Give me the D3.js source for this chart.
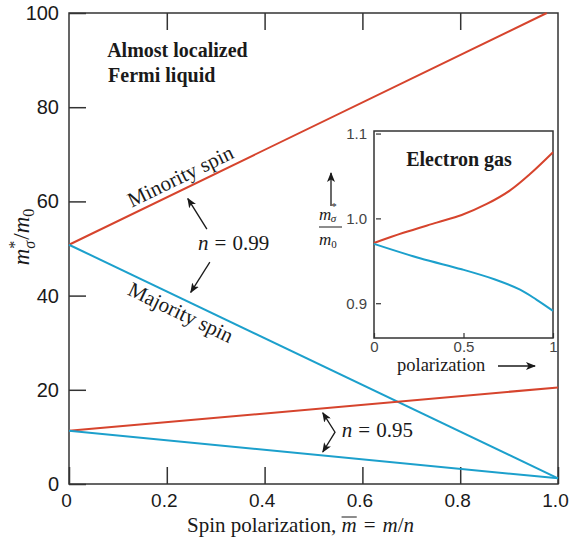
<!DOCTYPE html>
<html>
<head>
<meta charset="utf-8">
<script src="https://cdn.jsdelivr.net/npm/d3@7"></script>
<style>
body { margin: 0; background: #fff; }
svg { display: block; }
.serif { font-family: "Liberation Serif", "DejaVu Serif", serif; }
.sans { font-family: "Liberation Sans", Arial, sans-serif; }
</style>
</head>
<body>
<svg id="chart" width="571" height="548"></svg>
<script>
// main panel: effective mass vs spin polarization, two fillings
var minority99 = [[0, 50.8], [0.977, 100]];
var majority99 = [[0, 50.8], [1, 1.2]];
var minority95 = [[0, 11.3], [1, 20.5]];
var majority95 = [[0, 11.3], [1, 1.2]];
var mainXTicks = [0, 0.2, 0.4, 0.6, 0.8, 1.0];
var mainYTicks = [0, 20, 40, 60, 80, 100];

// inset: electron gas
var gasMinorityM = [0, 0.164, 0.35, 0.49, 0.63, 0.76, 0.87, 1];
var gasMinority = [0.971, 0.983, 0.995, 1.004, 1.017, 1.033, 1.052, 1.078];
var gasMajorityM = [0, 0.257, 0.49, 0.676, 0.816, 0.909, 1];
var gasMajority = [0.970, 0.953, 0.940, 0.928, 0.916, 0.904, 0.891];
var insetXTicks = [0, 0.5, 1];
var insetYTicks = [0.9, 1.0, 1.1];

var RED = "#d6442d", BLUE = "#1ca0cc", AXIS = "#333", INK = "#1a1a1a";

var svg = d3.select("#chart");
var x = d3.scaleLinear().domain([0, 1]).range([69, 558]);
var y = d3.scaleLinear().domain([0, 100]).range([484, 13]);

//arrow head marker
svg.append("defs").append("marker")
    .attr("id", "head")
    .attr("viewBox", "0 0 10 8")
    .attr("refX", 9).attr("refY", 4)
    .attr("markerWidth", 10).attr("markerHeight", 8)
    .attr("markerUnits", "userSpaceOnUse")
    .attr("orient", "auto-start-reverse")
  .append("path")
    .attr("d", "M0,0 L10,4 L0,8 L2.5,4 z")
    .attr("fill", INK);

//frame
svg.append("rect")
    .attr("x", x(0)).attr("y", y(100))
    .attr("width", x(1) - x(0)).attr("height", y(0) - y(100))
    .attr("fill", "none").attr("stroke", AXIS).attr("stroke-width", 1.5);

//axes
var fmtX = d => d === 0 ? "0" : d3.format(".1f")(d);
var gx = svg.append("g").attr("transform", "translate(0," + y(0) + ")")
    .call(d3.axisBottom(x).tickValues(mainXTicks).tickSize(-17).tickPadding(10).tickFormat(fmtX));
var gy = svg.append("g").attr("transform", "translate(" + x(0) + ",0)")
    .call(d3.axisLeft(y).tickValues(mainYTicks).tickSize(-17).tickPadding(10));
var gt = svg.append("g").attr("transform", "translate(0," + y(100) + ")")
    .call(d3.axisTop(x).tickValues(mainXTicks.slice(1, 5)).tickSize(-17).tickFormat(""));
[gx, gy, gt].forEach(function(g) {
    g.select(".domain").remove();
    g.selectAll("line").attr("stroke", AXIS).attr("stroke-width", 1.5);
    g.selectAll("text").attr("class", "sans").attr("font-size", 20).attr("fill", INK);
});
gx.selectAll("text").attr("dy", "0.71em").attr("dx", -3).attr("font-size", 19);

//lines
var line = d3.line().x(d => x(d[0])).y(d => y(d[1]));
[[minority99, RED], [majority99, BLUE], [minority95, RED], [majority95, BLUE]].forEach(function(s) {
    svg.append("path").datum(s[0])
        .attr("d", line)
        .attr("fill", "none")
        .attr("stroke", s[1])
        .attr("stroke-width", 2);
});

//rotated labels along the n = 0.99 lines
function alongLine(series, t, offset, label) {
    var p0 = [x(series[0][0]), y(series[0][1])];
    var p1 = [x(series[1][0]), y(series[1][1])];
    var ang = Math.atan2(p1[1] - p0[1], p1[0] - p0[0]);
    var px = p0[0] + (p1[0] - p0[0]) * t, py = p0[1] + (p1[1] - p0[1]) * t;
    px += -Math.sin(ang) * offset;
    py += Math.cos(ang) * offset;
    svg.append("text")
        .attr("class", "serif")
        .attr("font-size", 21)
        .attr("fill", INK)
        .attr("text-anchor", "middle")
        .attr("transform", "translate(" + px + "," + py + ") rotate(" + (ang * 180 / Math.PI) + ")")
        .text(label);
}
alongLine(minority99, 0.245, -6, "Minority spin");
alongLine(majority99, 0.24, 20, "Majority spin");

//annotations
function arrow(a, b) {
    svg.append("line")
        .attr("x1", x(a[0])).attr("y1", y(a[1]))
        .attr("x2", x(b[0])).attr("y2", y(b[1]))
        .attr("stroke", INK).attr("stroke-width", 1.3)
        .attr("marker-end", "url(#head)");
}
arrow([0.282, 54.1], [0.243, 60.6]);
arrow([0.288, 47.1], [0.249, 40.7]);

function mathText(px, py, num) {
    var t = svg.append("text").attr("class", "serif")
        .attr("x", px).attr("y", py).attr("font-size", 21).attr("fill", INK);
    t.append("tspan").attr("font-style", "italic").text("n");
    t.append("tspan").attr("dx", 6).text("=");
    t.append("tspan").attr("dx", 6).text(num);
}
mathText(x(0.264), y(49.7), "0.99");

svg.append("path")
    .attr("d", d3.line()([[x(0.519), y(15.1)], [x(0.544), y(11.0)], [x(0.519), y(6.8)]]))
    .attr("fill", "none").attr("stroke", INK).attr("stroke-width", 1.3)
    .attr("marker-start", "url(#head)").attr("marker-end", "url(#head)");
mathText(x(0.558), y(10.0), "0.95");

var title = svg.append("text").attr("class", "serif")
    .attr("font-size", 20).attr("font-weight", "bold").attr("fill", INK);
title.append("tspan").attr("x", x(0.078)).attr("y", y(90.7)).text("Almost localized");
title.append("tspan").attr("x", x(0.080)).attr("y", y(85.4)).text("Fermi liquid");

//y axis label m*_sigma / m_0
var yl = svg.append("text").attr("class", "serif")
    .attr("font-size", 23).attr("fill", INK)
    .attr("text-anchor", "middle")
    .attr("transform", "translate(29,237) rotate(-90)");
yl.append("tspan").attr("font-style", "italic").text("m");
yl.append("tspan").attr("font-size", 16).attr("dy", -9).text("*");
yl.append("tspan").attr("font-size", 16).attr("font-style", "italic").attr("dx", -8).attr("dy", 15).text("σ");
yl.append("tspan").attr("dx", 1).attr("dy", -6).text("/");
yl.append("tspan").attr("font-style", "italic").text("m");
yl.append("tspan").attr("font-size", 16).attr("dy", 5).text("0");

//x axis label
var xl = svg.append("text").attr("class", "serif")
    .attr("font-size", 21).attr("fill", INK)
    .attr("x", 187).attr("y", 532);
xl.append("tspan").text("Spin polarization, ");
xl.append("tspan").attr("font-style", "italic").text("m");
xl.append("tspan").attr("dx", 7).text("=");
xl.append("tspan").attr("dx", 7).attr("font-style", "italic").text("m");
xl.append("tspan").text("/");
xl.append("tspan").attr("font-style", "italic").text("n");
var mIdx = "Spin polarization, ".length;
var ext = xl.node().getExtentOfChar(mIdx);
svg.append("line")
    .attr("x1", ext.x).attr("x2", ext.x + ext.width)
    .attr("y1", ext.y + 4).attr("y2", ext.y + 4)
    .attr("stroke", INK).attr("stroke-width", 1);

// ---- inset ----
var xi = d3.scaleLinear().domain([0, 1]).range([374, 553]);
var yi = d3.scaleLinear().domain([0.859, 1.103]).range([338, 131]);

svg.append("rect")
    .attr("x", xi(0)).attr("y", yi(1.103))
    .attr("width", xi(1) - xi(0)).attr("height", yi(0.859) - yi(1.103))
    .attr("fill", "#fff").attr("stroke", AXIS).attr("stroke-width", 1.5);

var gxi = svg.append("g").attr("transform", "translate(0," + yi(0.859) + ")")
    .call(d3.axisBottom(xi).tickValues(insetXTicks).tickSize(-5).tickPadding(3).tickFormat(d3.format("")));
var gyi = svg.append("g").attr("transform", "translate(" + xi(0) + ",0)")
    .call(d3.axisLeft(yi).tickValues(insetYTicks).tickSize(-6).tickPadding(7).tickFormat(d3.format(".1f")));
[gxi, gyi].forEach(function(g) {
    g.select(".domain").remove();
    g.selectAll("line").attr("stroke", AXIS).attr("stroke-width", 1.2);
    g.selectAll("text").attr("class", "sans").attr("font-size", 15).attr("fill", "#444");
});
gyi.selectAll("line").attr("x1", 2).attr("x2", 7);

var lineI = d3.line().curve(d3.curveCatmullRom.alpha(0.5)).x(d => xi(d[0])).y(d => yi(d[1]));
svg.append("path").datum(d3.zip(gasMinorityM, gasMinority))
    .attr("d", lineI).attr("fill", "none").attr("stroke", RED).attr("stroke-width", 2);
svg.append("path").datum(d3.zip(gasMajorityM, gasMajority))
    .attr("d", lineI).attr("fill", "none").attr("stroke", BLUE).attr("stroke-width", 2);

svg.append("text").attr("class", "serif")
    .attr("font-size", 20).attr("font-weight", "bold").attr("fill", INK)
    .attr("text-anchor", "middle")
    .attr("x", xi(0.475)).attr("y", yi(1.062))
    .text("Electron gas");

//inset x label with arrow
svg.append("text").attr("class", "serif")
    .attr("font-size", 18.5).attr("fill", INK)
    .attr("x", 397).attr("y", 371)
    .text("polarization");
svg.append("line")
    .attr("x1", 498).attr("x2", 535).attr("y1", 366).attr("y2", 366)
    .attr("stroke", INK).attr("stroke-width", 1.3)
    .attr("marker-end", "url(#head)");

//inset y label as a fraction with arrow
var fx = 330;
var num = svg.append("text").attr("class", "serif")
    .attr("font-size", 17).attr("fill", INK)
    .attr("x", fx - 11).attr("y", 220);
num.append("tspan").attr("font-style", "italic").text("m");
num.append("tspan").attr("font-size", 11).attr("dy", -10).text("*");
num.append("tspan").attr("font-size", 11).attr("font-style", "italic").attr("dx", -6).attr("dy", 12).text("σ");
svg.append("line")
    .attr("x1", fx - 11).attr("x2", fx + 12).attr("y1", 227).attr("y2", 227)
    .attr("stroke", INK).attr("stroke-width", 1);
var den = svg.append("text").attr("class", "serif")
    .attr("font-size", 17).attr("fill", INK)
    .attr("x", fx - 11).attr("y", 245);
den.append("tspan").attr("font-style", "italic").text("m");
den.append("tspan").attr("font-size", 11).attr("dy", 3).text("0");
svg.append("line")
    .attr("x1", fx + 1).attr("x2", fx + 1).attr("y1", 206).attr("y2", 173)
    .attr("stroke", INK).attr("stroke-width", 1.3)
    .attr("marker-end", "url(#head)");
</script>
</body>
</html>
